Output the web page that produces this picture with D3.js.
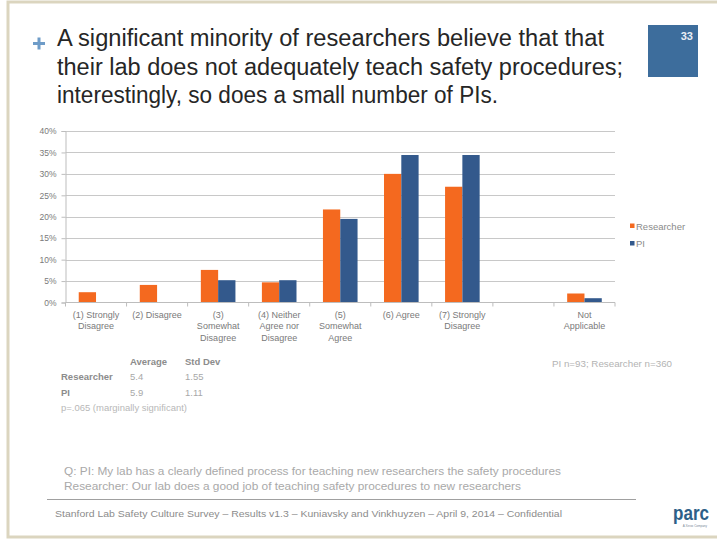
<!DOCTYPE html>
<html>
<head>
<meta charset="utf-8">
<script src="https://cdn.jsdelivr.net/npm/d3@7"></script>
<style>
  html, body { margin: 0; padding: 0; background: #fff; }
  svg { display: block; font-family: "Liberation Sans", Arial, sans-serif; }
</style>
</head>
<body>
<svg id="chart" width="717" height="540"></svg>
<script>
// ---------- data ----------
const categories = [
  "(1) Strongly Disagree", "(2) Disagree", "(3) Somewhat Disagree",
  "(4) Neither Agree nor Disagree", "(5) Somewhat Agree", "(6) Agree",
  "(7) Strongly Disagree", "", "Not Applicable"
];
const categoryLines = [
  ["(1) Strongly", "Disagree"], ["(2) Disagree"], ["(3)", "Somewhat", "Disagree"],
  ["(4) Neither", "Agree nor", "Disagree"], ["(5)", "Somewhat", "Agree"], ["(6) Agree"],
  ["(7) Strongly", "Disagree"], [""], ["Not", "Applicable"]
];
const seriesNames = ["Researcher", "PI"];
const researcherValues = [2.4, 4.1, 7.6, 4.7, 21.7, 30.0, 27.0, 0, 2.1];
const piValues = [0, 0, 5.2, 5.2, 19.5, 34.4, 34.4, 0, 1.0];
const yTicks = [0, 5, 10, 15, 20, 25, 30, 35, 40];
const seriesColors = ["#f4691f", "#33598c"];

const titleLines = [
  "A significant minority of researchers believe that that",
  "their lab does not adequately teach safety procedures;",
  "interestingly, so does a small number of PIs."
];
const statsHeader = ["Average", "Std Dev"];
const statsRows = [["Researcher", "5.4", "1.55"], ["PI", "5.9", "1.11"]];
const pValueNote = "p=.065 (marginally significant)";
const sampleNote = "PI n=93; Researcher n=360";
const questionLines = [
  "Q: PI: My lab has a clearly defined process for teaching new researchers the safety procedures",
  "Researcher: Our lab does a good job of teaching safety procedures to new researchers"
];
const footerText = "Stanford Lab Safety Culture Survey –  Results v1.3 – Kuniavsky and Vinkhuyzen – April 9, 2014 – Confidential";
const pageNumber = "33";

// ---------- drawing ----------
const svg = d3.select("#chart");

// slide frame
svg.append("rect").attr("x", 8).attr("y", 2).attr("width", 740).attr("height", 535)
  .attr("fill", "none").attr("stroke", "#dbd5bf").attr("stroke-width", 3);

// plus sign
svg.append("path").attr("d", "M33,43.5 H45 M39,37.5 V49.5")
  .attr("stroke", "#6e9cc8").attr("stroke-width", 3).attr("fill", "none");

// title
const titleWidths = [547, 566, 441];
svg.append("g").selectAll("text").data(titleLines).join("text")
  .attr("x", 57).attr("y", (d, i) => 46 + i * 28.5)
  .attr("font-size", 23).attr("fill", "#262626")
  .attr("textLength", (d, i) => titleWidths[i]).attr("lengthAdjust", "spacingAndGlyphs")
  .text(d => d);

// page number box
svg.append("rect").attr("x", 648).attr("y", 25).attr("width", 50).attr("height", 52).attr("fill", "#3d6d9c");
svg.append("text").attr("x", 693).attr("y", 40).attr("text-anchor", "end")
  .attr("font-size", 11).attr("font-weight", "bold").attr("fill", "#e8eef5").text(pageNumber);

// chart
const plot = { left: 65.5, right: 615, top: 131, bottom: 302.5 };
const x0 = d3.scaleBand().domain(categories).range([plot.left, plot.right]).padding(0);
const groupW = 34.6;
const x1 = d3.scaleBand().domain(seriesNames).range([0, groupW]).padding(0);
const y = d3.scaleLinear().domain([0, 40]).range([plot.bottom, plot.top]);

// gridlines
svg.append("g").selectAll("line").data(yTicks.filter(t => t > 0)).join("line")
  .attr("x1", plot.left).attr("x2", plot.right)
  .attr("y1", d => Math.round(y(d)) + 0.5).attr("y2", d => Math.round(y(d)) + 0.5)
  .attr("stroke", "#c8c8c8").attr("stroke-width", 1.2);

// y axis
const yAxis = svg.append("g").attr("transform", `translate(${plot.left},0)`)
  .call(d3.axisLeft(y).tickValues(yTicks).tickFormat(d => d + "%").tickSize(4).tickPadding(5));
yAxis.select(".domain").attr("stroke", "#bdbdbd");
yAxis.selectAll(".tick line").attr("stroke", "#bdbdbd");
yAxis.selectAll(".tick text").attr("font-size", 8.5).attr("fill", "#7a7a7a")
  .attr("font-family", "Liberation Sans, Arial, sans-serif");

// bars
const series = [researcherValues, piValues];
const gBars = svg.append("g");
categories.forEach((c, i) => {
  const gx = x0(c) + (x0.bandwidth() - groupW) / 2;
  seriesNames.forEach((s, j) => {
    const v = series[j][i];
    if (v <= 0) return;
    gBars.append("rect")
      .attr("x", gx + x1(s)).attr("width", x1.bandwidth())
      .attr("y", y(v)).attr("height", y(0) - y(v))
      .attr("fill", seriesColors[j]);
  });
});

// x axis
const xAxis = svg.append("g").attr("transform", `translate(0,${plot.bottom})`);
xAxis.append("line").attr("x1", plot.left).attr("x2", plot.right)
  .attr("stroke", "#bdbdbd").attr("stroke-width", 1.2);
const bounds = categories.map(c => x0(c)).concat([plot.right]);
xAxis.selectAll("line.tk").data(bounds).join("line").attr("class", "tk")
  .attr("x1", d => d).attr("x2", d => d).attr("y1", 0).attr("y2", 4)
  .attr("stroke", "#bdbdbd");
const labelG = xAxis.selectAll("g.lab").data(categories).join("g").attr("class", "lab")
  .attr("transform", c => `translate(${x0(c) + x0.bandwidth() / 2},0)`);
labelG.each(function(c, i) {
  d3.select(this).selectAll("text").data(categoryLines[i]).join("text")
    .attr("y", (d, k) => 15 + k * 11.5).attr("text-anchor", "middle")
    .attr("font-size", 9).attr("fill", "#7a7a7a").text(d => d);
});

// legend
const leg = svg.append("g").attr("transform", "translate(630,226)");
seriesNames.forEach((s, j) => {
  leg.append("rect").attr("x", 0).attr("y", j * 17.5 - 2.5).attr("width", 4.5).attr("height", 4.5)
    .attr("fill", seriesColors[j]);
  leg.append("text").attr("x", 6).attr("y", j * 17.5 + 3.5).attr("font-size", 9.5)
    .attr("fill", "#8a8a8a").text(s);
});

// stats table
const st = svg.append("g").attr("font-size", 9.5);
st.selectAll("text.h").data(statsHeader).join("text").attr("class", "h")
  .attr("x", (d, i) => [130, 185][i]).attr("y", 365)
  .attr("fill", "#8c8c8c").attr("font-weight", "bold").text(d => d);
statsRows.forEach((r, i) => {
  const yy = 380 + i * 16;
  st.append("text").attr("x", 61).attr("y", yy).attr("fill", "#8c8c8c").attr("font-weight", "bold").text(r[0]);
  st.append("text").attr("x", 130).attr("y", yy).attr("fill", "#a8a8a8").text(r[1]);
  st.append("text").attr("x", 185).attr("y", yy).attr("fill", "#a8a8a8").text(r[2]);
});
st.append("text").attr("x", 61).attr("y", 411).attr("font-size", 9.5).attr("fill", "#b8b8b8")
  .attr("textLength", 126).attr("lengthAdjust", "spacingAndGlyphs").text(pValueNote);

svg.append("text").attr("x", 552).attr("y", 367).attr("font-size", 9.5).attr("fill", "#b3b3b3")
  .attr("textLength", 120).attr("lengthAdjust", "spacingAndGlyphs").text(sampleNote);

// question text
const qWidths = [497, 457];
svg.append("g").selectAll("text").data(questionLines).join("text")
  .attr("x", 64).attr("y", (d, i) => 475 + i * 15)
  .attr("font-size", 11.5).attr("fill", "#a9a9a9")
  .attr("textLength", (d, i) => qWidths[i]).attr("lengthAdjust", "spacingAndGlyphs")
  .text(d => d);

// footer
svg.append("line").attr("x1", 47).attr("x2", 636).attr("y1", 499.5).attr("y2", 499.5)
  .attr("stroke", "#a0a0a0").attr("stroke-width", 1);
svg.append("text").attr("x", 55).attr("y", 517).attr("font-size", 9.5).attr("fill", "#8c8c8c")
  .attr("textLength", 507).attr("lengthAdjust", "spacingAndGlyphs")
  .text(footerText);

// logo
svg.append("text").attr("x", 673).attr("y", 520).attr("font-size", 20).attr("font-weight", "bold")
  .attr("fill", "#2d5f88").attr("textLength", 36).attr("lengthAdjust", "spacingAndGlyphs").text("parc");
svg.append("text").attr("x", 707).attr("y", 527).attr("text-anchor", "end").attr("font-size", 3)
  .attr("fill", "#7a8a99").text("A Xerox Company");
</script>
</body>
</html>
